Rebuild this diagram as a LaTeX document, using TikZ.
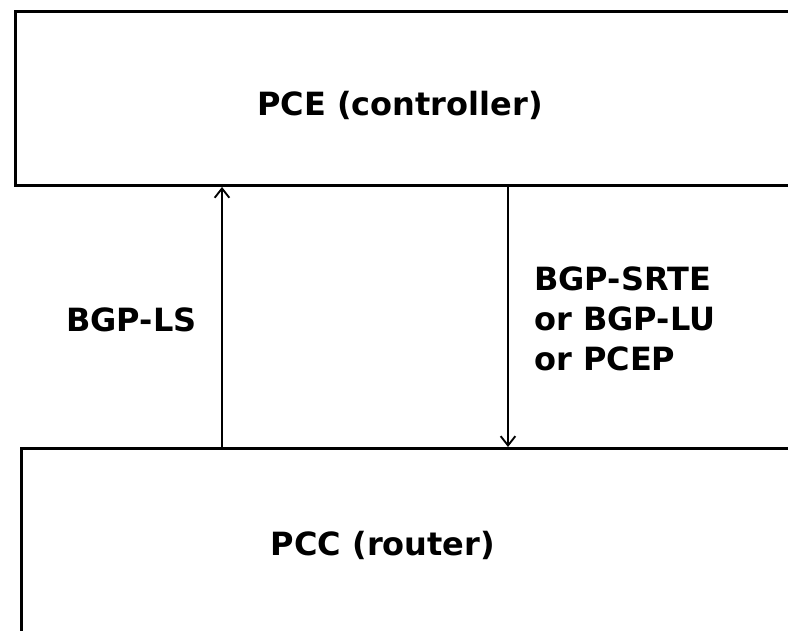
\documentclass[tikz,border=0pt]{standalone}
\usepackage{fontspec}
\setmainfont{DejaVu Sans}
\usetikzlibrary{arrows.meta}

\tikzset{
    box/.style={draw, line width=2.2pt, rectangle, inner sep=0pt},
    lbl/.style={font=\fontsize{24}{30}\selectfont\bfseries, inner sep=0pt},
}

\begin{document}
\begin{tikzpicture}[x=0.75pt, y=-0.75pt, >={Straight Barb[length=7pt, width=11pt]}]

    % Batas gambar
    \useasboundingbox (0,0) rectangle (788,631);
    \clip (0,0) rectangle (788,631);

    % Kotak atas dan bawah
    \node[box, minimum width=800*0.75pt, minimum height=174*0.75pt, anchor=north west] (pcebox) at (14,10) {};
    \node[box, minimum width=800*0.75pt, minimum height=240*0.75pt, anchor=north west] (pccbox) at (20,447) {};

    % Teks
    \node[lbl] (pce) at (400,105) {PCE (controller)};
    \node[lbl] (pcc) at (383,545) {PCC (router)};
    \node[lbl, anchor=west] (ls) at (66,320) {BGP-LS};
    \node[lbl, anchor=north west, align=left] (srte) at (534,266) {BGP-SRTE\\or BGP-LU\\or PCEP};

    % Panah
    \coordinate (up) at (222,0);
    \coordinate (down) at (508,0);
    \draw[->, line width=1.4pt] (up |- pccbox.north) -- (up |- pcebox.south);
    \draw[->, line width=1.4pt] (down |- pcebox.south) -- (down |- pccbox.north);

\end{tikzpicture}
\end{document}
